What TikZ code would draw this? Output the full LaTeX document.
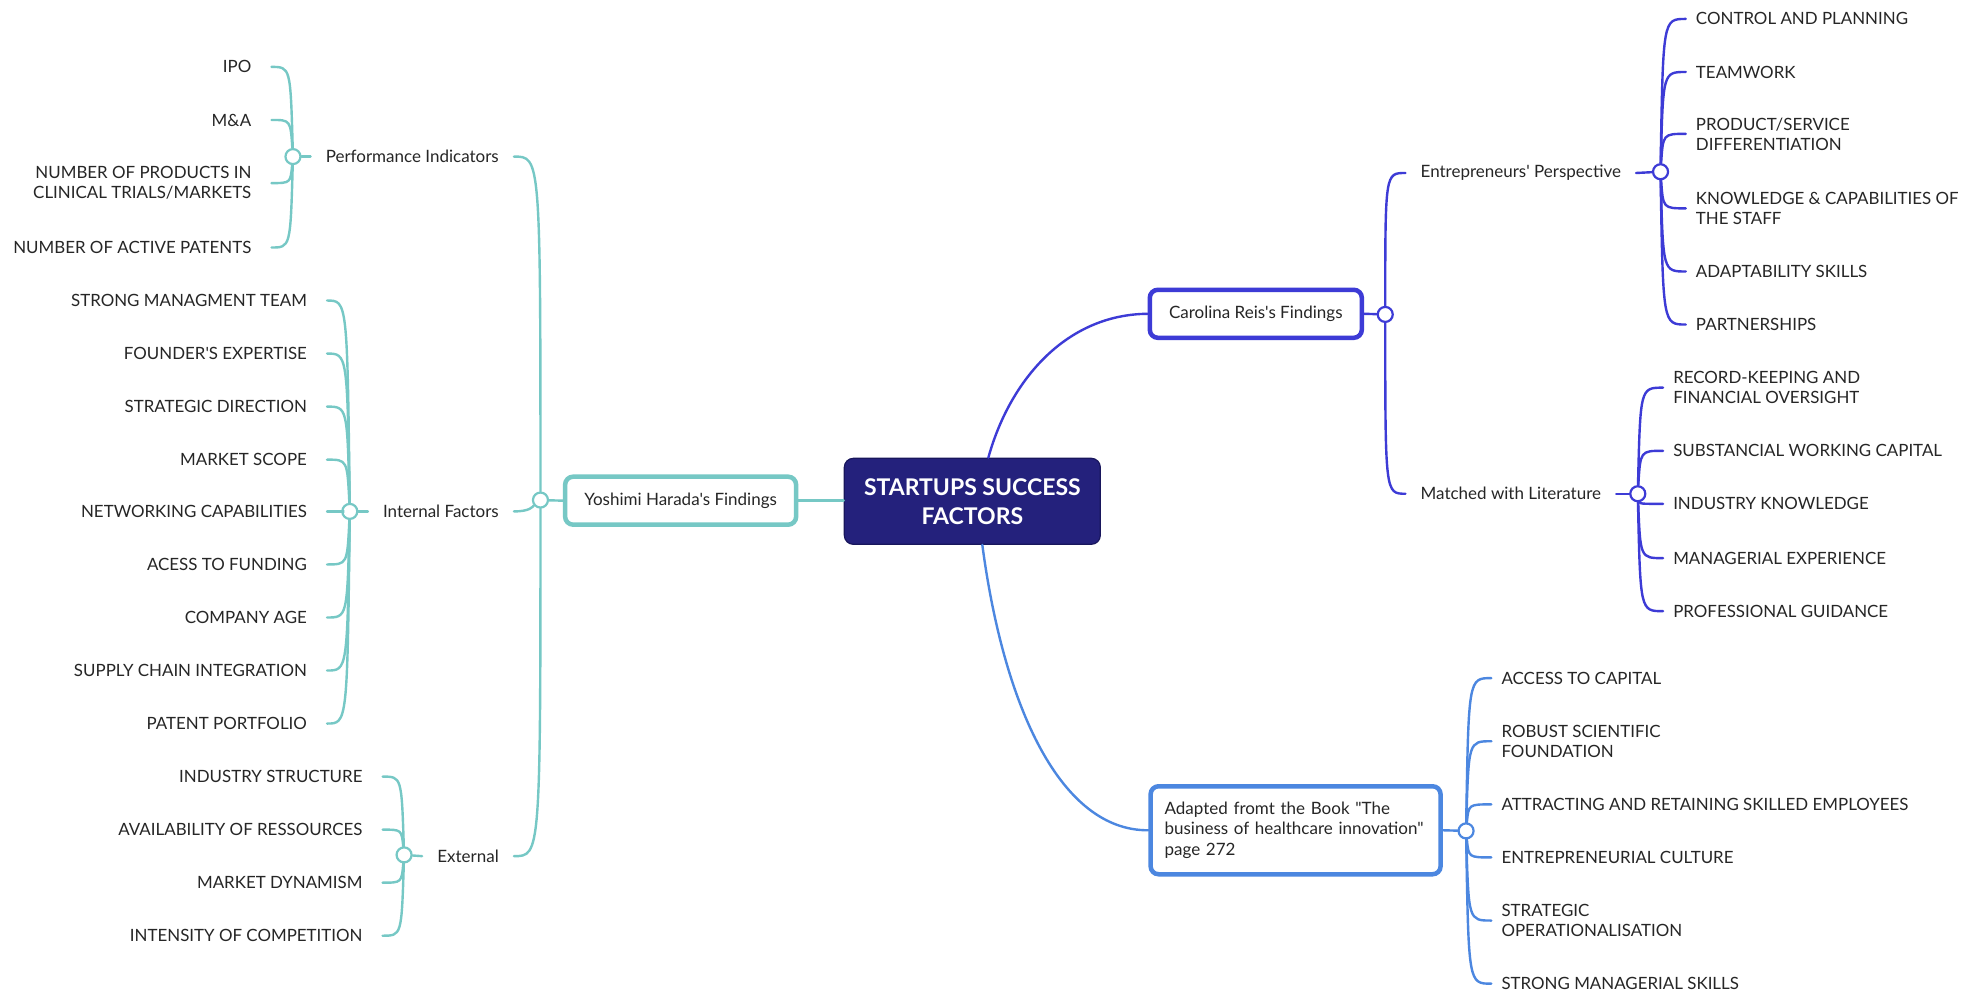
\documentclass[tikz,border=0pt]{standalone}
\usepackage{fontspec}
\setmainfont{Lato}[Ligatures=TeXOff]
\definecolor{ink}{HTML}{262626}
\definecolor{tealbr}{HTML}{76C8C5}
\definecolor{violetbr}{HTML}{3D3BD6}
\definecolor{skybr}{HTML}{4C87E0}
\definecolor{navyfill}{HTML}{24217C}
\definecolor{navyedge}{HTML}{18165C}
\newcommand\leaffont{\fontsize{16.9}{20}\selectfont}
\newcommand\midfont{\fontsize{17}{20.5}\selectfont}
\tikzset{
  conn/.style={line width=2.4pt, line cap=round},
  hub/.style={circle, draw, fill=white, line width=2.2pt, minimum size=15pt, inner sep=0pt},
  leafL/.style={anchor=east, font=\leaffont, text=ink, align=right, inner xsep=20pt, inner ysep=1pt},
  leafR/.style={anchor=west, font=\leaffont, text=ink, align=left, inner xsep=10pt, inner ysep=1pt},
  mid/.style={font=\midfont, text=ink, inner xsep=15pt, inner ysep=2pt},
  topic/.style={rounded corners=8pt, draw, fill=white, line width=4.5pt, font=\midfont, text=ink},
  core/.style={rounded corners=9pt, fill=navyfill, draw=navyedge, line width=1.2pt,
    minimum width=256pt, minimum height=86pt, text=white, align=center,
    font=\fontsize{23}{29}\selectfont\bfseries},
}
\begin{document}
\begin{tikzpicture}[x=1.2628pt, y=-1.2628pt]
\useasboundingbox[fill=white] (0,0) rectangle (1568,786);

% central topic and main branches
\node[core] (core) at (770,397) {STARTUPS SUCCESS\\FACTORS};
\node[topic, draw=tealbr, minimum width=231pt, minimum height=48pt] (yosh) at (539,396.5) {Yoshimi Harada's Findings};
\node[topic, draw=violetbr, minimum width=212pt, minimum height=48pt] (caro) at (994.5,248.5) {Carolina Reis's Findings};
\node[topic, draw=skybr, minimum width=290pt, minimum height=88pt, text width=262pt, align=left, inner xsep=14pt] (book) at (1026,657.5)
  {Adapted fromt the Book "The\\business of healthcare innovation"\\page 272};

% junction circles
\node[hub, draw=tealbr] (hubY) at (428,396) {};
\node[hub, draw=tealbr] (hubP) at (232,124) {};
\node[hub, draw=tealbr] (hubI) at (277,405) {};
\node[hub, draw=tealbr] (hubX) at (320,677) {};
\node[hub, draw=violetbr] (hubC) at (1097,249) {};
\node[hub, draw=violetbr] (hubE) at (1315,136) {};
\node[hub, draw=violetbr] (hubM) at (1297,391) {};
\node[hub, draw=skybr] (hubB) at (1161,658) {};

% sub-topics
\node[mid, anchor=east] (perf) at (407,124) {Performance Indicators};
\node[mid, anchor=east] (intf) at (407,405) {Internal Factors};
\node[mid, anchor=east] (extf) at (407,678) {External};
\node[mid, anchor=west] (entr) at (1113,137) {Entrepreneurs' Perspective};
\node[mid, anchor=west] (lit) at (1113,391) {Matched with Literature};

% left branch connectors
\draw[conn, tealbr] (yosh.east) -- (yosh.east -| core.west);
\draw[conn, tealbr] (hubY) -- (yosh.west);
\draw[conn, tealbr] (perf.east) .. controls (428,124) and (428,124) .. (hubY);
\draw[conn, tealbr] (intf.east) .. controls (420,405) and (422,401) .. (hubY);
\draw[conn, tealbr] (extf.east) .. controls (428,678) and (428,678) .. (hubY);
\draw[conn, tealbr] (hubP) -- (perf.west);
\draw[conn, tealbr] (hubI) -- (intf.west);
\draw[conn, tealbr] (hubX) -- (extf.west);

% right branch connectors
\draw[conn, violetbr] ([xshift=16pt]core.north) .. controls (800,300) and (845,249) .. (caro.west);
\draw[conn, violetbr] (caro.east) -- (hubC);
\draw[conn, violetbr] (hubC) .. controls (1097,137) and (1097,137) .. (entr.west);
\draw[conn, violetbr] (hubC) .. controls (1097,391) and (1097,391) .. (lit.west);
\draw[conn, violetbr] (entr.east) -- (hubE);
\draw[conn, violetbr] (lit.east) -- (hubM);
\draw[conn, skybr] ([xshift=10pt]core.south) .. controls (795,560) and (840,658) .. (book.west);
\draw[conn, skybr] (book.east) -- (hubB);

% performance indicators
\foreach \n/\y/\t in {ipo/53/{IPO}, mna/95/{M\&A},
    prod/145/{NUMBER OF PRODUCTS IN\\CLINICAL TRIALS/MARKETS},
    pat/196/{NUMBER OF ACTIVE PATENTS}} {
  \node[leafL] (\n) at (215,\y) {\t};
  \draw[conn, tealbr] (hubP) .. controls (230,\y) and (230,\y) .. (\n.east);
}

% internal factors
\foreach \n/\y/\t in {smt/238/{STRONG MANAGMENT TEAM}, fex/280/{FOUNDER'S EXPERTISE},
    sdir/322/{STRATEGIC DIRECTION}, msc/364/{MARKET SCOPE},
    net/405/{NETWORKING CAPABILITIES}, fund/447/{ACESS TO FUNDING},
    age/489/{COMPANY AGE}, sci/531/{SUPPLY CHAIN INTEGRATION},
    ppf/573/{PATENT PORTFOLIO}} {
  \node[leafL] (\n) at (259,\y) {\t};
  \draw[conn, tealbr] (hubI) .. controls (275,\y) and (275,\y) .. (\n.east);
}

% external factors
\foreach \n/\y/\t in {ist/615/{INDUSTRY STRUCTURE}, avr/657/{AVAILABILITY OF RESSOURCES},
    mdy/699/{MARKET DYNAMISM}, ico/741/{INTENSITY OF COMPETITION}} {
  \node[leafL] (\n) at (303,\y) {\t};
  \draw[conn, tealbr] (hubX) .. controls (318,\y) and (318,\y) .. (\n.east);
}

% entrepreneurs' perspective
\foreach \n/\y/\t in {cap/15/{CONTROL AND PLANNING}, tmw/57/{TEAMWORK},
    psd/106/{PRODUCT/SERVICE\\DIFFERENTIATION},
    kcs/165/{KNOWLEDGE \& CAPABILITIES OF\\THE STAFF},
    ads/215/{ADAPTABILITY SKILLS}, prt/257/{PARTNERSHIPS}} {
  \node[leafR] (\n) at (1335,\y) {\t};
  \draw[conn, violetbr] (hubE) .. controls (1317,\y) and (1317,\y) .. (\n.west);
}

% matched with literature
\foreach \n/\y/\t in {rkf/307/{RECORD-KEEPING AND\\FINANCIAL OVERSIGHT},
    swc/357/{SUBSTANCIAL WORKING CAPITAL}, ikn/399/{INDUSTRY KNOWLEDGE},
    mex/442/{MANAGERIAL EXPERIENCE}, pgd/484/{PROFESSIONAL GUIDANCE}} {
  \node[leafR] (\n) at (1317,\y) {\t};
  \draw[conn, violetbr] (hubM) .. controls (1299,\y) and (1299,\y) .. (\n.west);
}

% healthcare innovation book
\foreach \n/\y/\t in {acc/537/{ACCESS TO CAPITAL},
    rsf/587/{ROBUST SCIENTIFIC\\FOUNDATION},
    ars/637/{ATTRACTING AND RETAINING SKILLED EMPLOYEES},
    ecu/679/{ENTREPRENEURIAL CULTURE},
    sop/729/{STRATEGIC\\OPERATIONALISATION},
    sms/779/{STRONG MANAGERIAL SKILLS}} {
  \node[leafR] (\n) at (1181,\y) {\t};
  \draw[conn, skybr] (hubB) .. controls (1163,\y) and (1163,\y) .. (\n.west);
}
\end{tikzpicture}
\end{document}
